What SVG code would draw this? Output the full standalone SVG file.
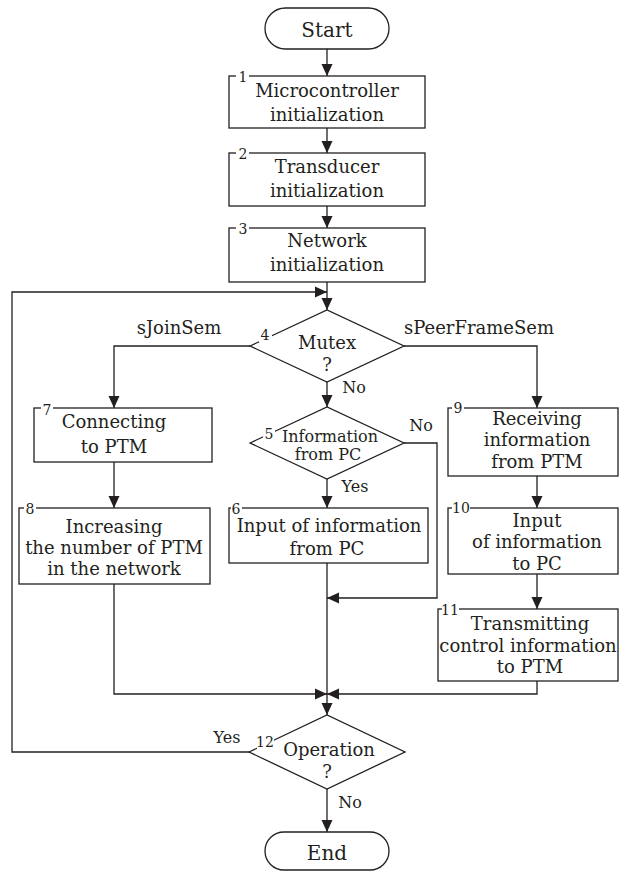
<svg xmlns="http://www.w3.org/2000/svg" width="621" height="871" viewBox="0 0 621 871">
<style>
.s{fill:none;stroke:#231f20;stroke-width:1.3}
.t{font-family:"DejaVu Serif","Liberation Serif",serif;font-size:18px;fill:#231f20;stroke:none;text-anchor:middle}
.big{font-size:20px}
.sm{font-size:16px}
.n{font-family:"DejaVu Serif","Liberation Serif",serif;font-size:14px;fill:#231f20;stroke:none;text-anchor:middle}
.w{fill:#fff;stroke:none}
</style>
<defs>
<marker id="a" markerUnits="userSpaceOnUse" markerWidth="12" markerHeight="12" refX="12" refY="6" orient="auto">
<path d="M0,0.5 L12,6 L0,11.5 z" fill="#231f20" stroke="none"/>
</marker>
</defs>
<rect width="621" height="871" fill="#fff"/>
<g id="connectors" class="s">
<path d="M327,49 V76" marker-end="url(#a)"/>
<path d="M327,128 V153" marker-end="url(#a)"/>
<path d="M327,206 V228" marker-end="url(#a)"/>
<path d="M327,282 V310" marker-end="url(#a)"/>
<path d="M249,752 H12 V292 H327" marker-end="url(#a)"/>
<path d="M250,346 H114 V408" marker-end="url(#a)"/>
<path d="M404,346 H537 V408" marker-end="url(#a)"/>
<path d="M327,382 V407" marker-end="url(#a)"/>
<path d="M327,479 V508" marker-end="url(#a)"/>
<path d="M404,443 H437 V598 H327" marker-end="url(#a)"/>
<path d="M114,462 V508" marker-end="url(#a)"/>
<path d="M114,584 V694 H327" marker-end="url(#a)"/>
<path d="M327,563 V715" marker-end="url(#a)"/>
<path d="M537,476 V508" marker-end="url(#a)"/>
<path d="M537,574 V609" marker-end="url(#a)"/>
<path d="M537,681 V694 H327" marker-end="url(#a)"/>
<path d="M327,789 V832" marker-end="url(#a)"/>
</g>
<g id="connector-labels">
<text class="t" x="179" y="334">sJoinSem</text>
<text class="t" x="479" y="334">sPeerFrameSem</text>
<text class="t sm" x="354" y="393">No</text>
<text class="t sm" x="421" y="431">No</text>
<text class="t sm" x="355" y="492">Yes</text>
<text class="t sm" x="227" y="743">Yes</text>
<text class="t sm" x="350" y="808">No</text>
</g>
<g id="start">
<rect class="s" x="265" y="8" width="124" height="41" rx="20.5" fill="#fff"/>
<text class="t big" x="327" y="37">Start</text>
</g>
<g id="n1">
<rect class="s" x="229" y="76" width="196" height="52"/>
<rect class="w" x="236" y="70" width="13" height="12"/>
<text class="n" x="243" y="82">1</text>
<text class="t" x="327" y="97">Microcontroller</text>
<text class="t" x="327" y="121">initialization</text>
</g>
<g id="n2">
<rect class="s" x="229" y="153" width="196" height="53"/>
<rect class="w" x="236" y="147" width="13" height="12"/>
<text class="n" x="243" y="159">2</text>
<text class="t" x="327" y="173">Transducer</text>
<text class="t" x="327" y="197">initialization</text>
</g>
<g id="n3">
<rect class="s" x="229" y="228" width="196" height="54"/>
<rect class="w" x="236" y="222" width="13" height="12"/>
<text class="n" x="243" y="234">3</text>
<text class="t" x="327" y="247">Network</text>
<text class="t" x="327" y="271">initialization</text>
</g>
<g id="n4">
<polygon class="s" points="250,346 327,310 404,346 327,382"/>
<rect class="w" x="259" y="328" width="13" height="14"/>
<text class="n" x="265" y="340">4</text>
<text class="t" x="327" y="349">Mutex</text>
<text class="t" x="327" y="371">?</text>
</g>
<g id="n5">
<polygon class="s" points="250,443 327,407 404,443 327,479"/>
<rect class="w" x="263" y="427" width="12" height="13"/>
<text class="n" x="269" y="439">5</text>
<text class="t sm" x="330" y="442">Information</text>
<text class="t sm" x="328" y="460">from PC</text>
</g>
<g id="n6">
<rect class="s" x="229" y="508" width="199" height="55"/>
<rect class="w" x="231" y="502" width="11" height="12"/>
<text class="n" x="236" y="514">6</text>
<text class="t" x="329" y="532">Input of information</text>
<text class="t" x="327" y="555">from PC</text>
</g>
<g id="n7">
<rect class="s" x="34" y="408" width="178" height="54"/>
<rect class="w" x="41" y="402" width="12" height="12"/>
<text class="n" x="47" y="415">7</text>
<text class="t" x="114" y="428">Connecting</text>
<text class="t" x="114" y="453">to PTM</text>
</g>
<g id="n8">
<rect class="s" x="19" y="508" width="191" height="76"/>
<rect class="w" x="24" y="502" width="12" height="12"/>
<text class="n" x="30" y="514">8</text>
<text class="t" x="114" y="533">Increasing</text>
<text class="t" x="114" y="554">the number of PTM</text>
<text class="t" x="114" y="575">in the network</text>
</g>
<g id="n9">
<rect class="s" x="448" y="408" width="170" height="68"/>
<rect class="w" x="452" y="402" width="12" height="12"/>
<text class="n" x="458" y="413">9</text>
<text class="t" x="537" y="425">Receiving</text>
<text class="t" x="537" y="446">information</text>
<text class="t" x="537" y="468">from PTM</text>
</g>
<g id="n10">
<rect class="s" x="448" y="508" width="170" height="66"/>
<rect class="w" x="452" y="502" width="18" height="12"/>
<text class="n" x="461" y="513">10</text>
<text class="t" x="537" y="527">Input</text>
<text class="t" x="537" y="548">of information</text>
<text class="t" x="537" y="570">to PC</text>
</g>
<g id="n11">
<rect class="s" x="438" y="609" width="180" height="72"/>
<rect class="w" x="442" y="603" width="17" height="12"/>
<text class="n" x="450" y="615">11</text>
<text class="t" x="530" y="630">Transmitting</text>
<text class="t" x="528" y="652">control information</text>
<text class="t" x="530" y="673">to PTM</text>
</g>
<g id="n12">
<polygon class="s" points="249,752 327,715 405,752 327,789"/>
<rect class="w" x="257" y="736" width="17" height="13"/>
<text class="n" x="265" y="747">12</text>
<text class="t" x="329" y="756">Operation</text>
<text class="t" x="327" y="778">?</text>
</g>
<g id="end">
<rect class="s" x="265" y="832" width="124" height="38" rx="19" fill="#fff"/>
<text class="t big" x="327" y="860">End</text>
</g>
</svg>
